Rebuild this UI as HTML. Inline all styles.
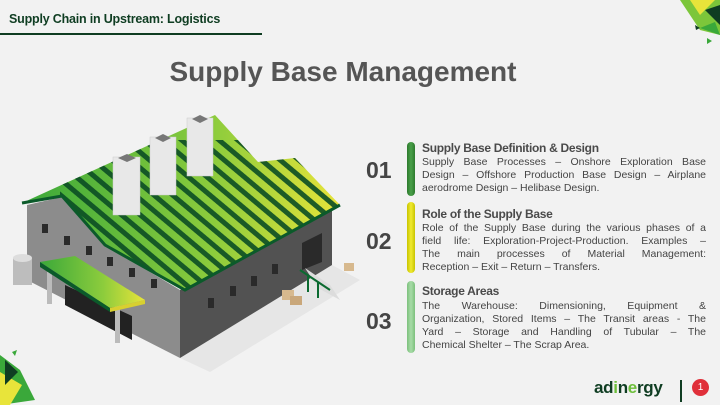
<!DOCTYPE html>
<html><head><meta charset="utf-8">
<style>
*{margin:0;padding:0;box-sizing:border-box}
body{width:720px;height:405px;background:#f2f2f2;position:relative;overflow:hidden;font-family:"Liberation Sans",sans-serif}
.hdr{position:absolute;left:9px;top:12px;font-size:12.5px;font-weight:bold;color:#0f3d22;letter-spacing:-0.2px}
.hl{position:absolute;left:0;top:33px;width:262px;height:1.5px;background:#0f3d22}
.title{position:absolute;left:0;width:686px;top:56px;text-align:center;font-size:28px;font-weight:bold;color:#555}
.num{position:absolute;left:366px;font-size:23px;font-weight:bold;color:#454545}
.bar{position:absolute;left:407px;width:8px;border-radius:4px}
.h{position:absolute;left:422px;font-size:12px;font-weight:bold;color:#4a4a4a;letter-spacing:-0.3px}
.p{position:absolute;left:422px;width:284px;font-size:10.5px;line-height:13px;color:#444}
.p div{text-align:justify;text-align-last:justify;white-space:nowrap}
.p div.l{text-align-last:left}
</style></head><body>
<div class="hdr">Supply Chain in Upstream: Logistics</div>
<div class="hl"></div>
<div class="title">Supply Base Management</div>

<svg width="720" height="405" style="position:absolute;left:0;top:0">
<defs>
<linearGradient id="rg" x1="0" y1="0" x2="1" y2="0"><stop offset="0" stop-color="#3aa83a"/><stop offset="0.6" stop-color="#8ccc3c"/><stop offset="1" stop-color="#e8e43a"/></linearGradient>
<pattern id="st" width="12" height="12" patternUnits="userSpaceOnUse" patternTransform="rotate(40)"><rect width="12" height="5" fill="#0b4d24"/></pattern>
<clipPath id="rc"><polygon points="22,203 215,115 258,162 295,158 340,205 185,290 105,245 62,196"/></clipPath>
</defs>
<polygon points="180,358 332,265 360,280 210,372" fill="#e6e6e6"/>
<polygon points="27,205 62,197 105,245 180,290 180,358 27,280" fill="#8c8c8c"/>
<polygon points="180,290 332,210 332,265 180,358" fill="#525252"/>
<polygon points="22,203 215,115 258,162 295,158 340,205 185,290 105,245 62,196" fill="url(#rg)"/>
<g clip-path="url(#rc)"><rect x="60" y="140" width="280" height="160" fill="url(#st)" opacity="0.9"/></g>
<polyline points="22,203 62,196 105,245 185,290 340,205" fill="none" stroke="#0b5a2a" stroke-width="3"/>
<g fill="#e8e8e8" stroke="#ccc" stroke-width="0.5">
<rect x="113" y="157" width="27" height="58"/><rect x="150" y="137" width="26" height="58"/><rect x="187" y="118" width="26" height="58"/></g>
<g fill="#777"><polygon points="118,158 127,154 136,158 127,162"/><polygon points="155,138 163,134 171,138 163,142"/><polygon points="192,119 200,115 208,119 200,123"/></g>
<g fill="#2a2a2a">
<rect x="42" y="224" width="6" height="9"/><rect x="64" y="236" width="6" height="9"/><rect x="86" y="246" width="6" height="9"/><rect x="107" y="257" width="6" height="9"/><rect x="129" y="268" width="6" height="9"/><rect x="151" y="279" width="6" height="9"/>
<rect x="208" y="298" width="6" height="10"/><rect x="230" y="286" width="6" height="10"/><rect x="251" y="276" width="6" height="10"/><rect x="272" y="264" width="6" height="10"/>
<polygon points="302,243 322,233 322,262 302,270"/>
</g>
<polygon points="65,285 132,316 132,340 65,305" fill="#222"/>
<rect x="47" y="272" width="5" height="32" fill="#bbb"/><rect x="115" y="305" width="5" height="38" fill="#bbb"/>
<polygon points="40,262 75,256 145,300 110,308" fill="url(#rg)"/>
<polygon points="40,262 110,308 110,312 40,267" fill="#0b5a2a"/>
<polygon points="110,308 145,300 145,304 110,312" fill="#d8d030"/>
<rect x="13" y="258" width="19" height="27" fill="#bdbdbd"/><ellipse cx="22.5" cy="258" rx="9.5" ry="4" fill="#ddd"/>
<polygon points="305,268 330,285 340,300 318,288" fill="#dcdcdc"/>
<g stroke="#0b6a30" stroke-width="2"><line x1="300" y1="270" x2="330" y2="290"/><line x1="308" y1="275" x2="308" y2="292"/><line x1="318" y1="282" x2="318" y2="298"/></g>
<rect x="282" y="290" width="12" height="10" fill="#d7b98e"/><rect x="290" y="296" width="12" height="9" fill="#c9a77a"/><rect x="344" y="263" width="10" height="8" fill="#d7b98e"/>
<polygon points="680,0 720,0 720,35 700,30" fill="#7cc63a"/><polygon points="690,0 715,0 700,15" fill="#e8e43a"/><polygon points="705,10 720,5 720,25" fill="#0f3d22"/><polygon points="700,28 715,22 720,35" fill="#3aa83a"/><polygon points="695,25 700,28 696,30" fill="#0f3d22"/><polygon points="707,38 712,41 707,44" fill="#3aa83a"/>
<polygon points="0,355 20,370 35,400 0,405" fill="#3aa83a"/><polygon points="0,372 22,385 10,405 0,405" fill="#e8e43a"/><polygon points="5,360 18,372 5,385" fill="#0f3d22"/><polygon points="12,352 17,350 15,356" fill="#3aa83a"/>
</svg>

<div class="num" style="top:157px">01</div>
<div class="num" style="top:228px">02</div>
<div class="num" style="top:308px">03</div>
<div class="bar" style="top:142px;height:54px;background:linear-gradient(90deg,#2d7a2d,#4aa04a,#2d7a2d)"></div>
<div class="bar" style="top:202px;height:71px;background:linear-gradient(90deg,#c8c400,#f0ea30,#c8c400)"></div>
<div class="bar" style="top:281px;height:72px;background:linear-gradient(90deg,#7cc07c,#a8dca8,#7cc07c)"></div>

<div class="h" style="top:141px">Supply Base Definition &amp; Design</div>
<div class="p" style="top:156px"><div>Supply Base Processes – Onshore Exploration Base</div><div>Design – Offshore Production Base Design – Airplane</div><div class="l">aerodrome Design – Helibase Design.</div></div>
<div class="h" style="top:207px">Role of the Supply Base</div>
<div class="p" style="top:222px"><div>Role of the Supply Base during the various phases of a</div><div>field life: Exploration-Project-Production. Examples –</div><div>The main processes of Material Management:</div><div class="l">Reception – Exit – Return – Transfers.</div></div>
<div class="h" style="top:284px">Storage Areas</div>
<div class="p" style="top:300px"><div>The Warehouse: Dimensioning, Equipment &amp;</div><div>Organization, Stored Items – The Transit areas - The</div><div>Yard – Storage and Handling of Tubular – The</div><div class="l">Chemical Shelter – The Scrap Area.</div></div>

<div style="position:absolute;left:594px;top:378px;font-size:17px;font-weight:bold;color:#0f3d22;letter-spacing:-0.3px">ad<span style="color:#6cbf3a">i</span>n<span style="color:#6cbf3a">e</span>rgy</div>
<div style="position:absolute;left:680px;top:380px;width:1.5px;height:22px;background:#0f3d22"></div>
<div style="position:absolute;left:692px;top:379px;width:17px;height:17px;border-radius:50%;background:#e0303a;color:#fff;font-size:10px;text-align:center;line-height:17px">1</div>
</body></html>
